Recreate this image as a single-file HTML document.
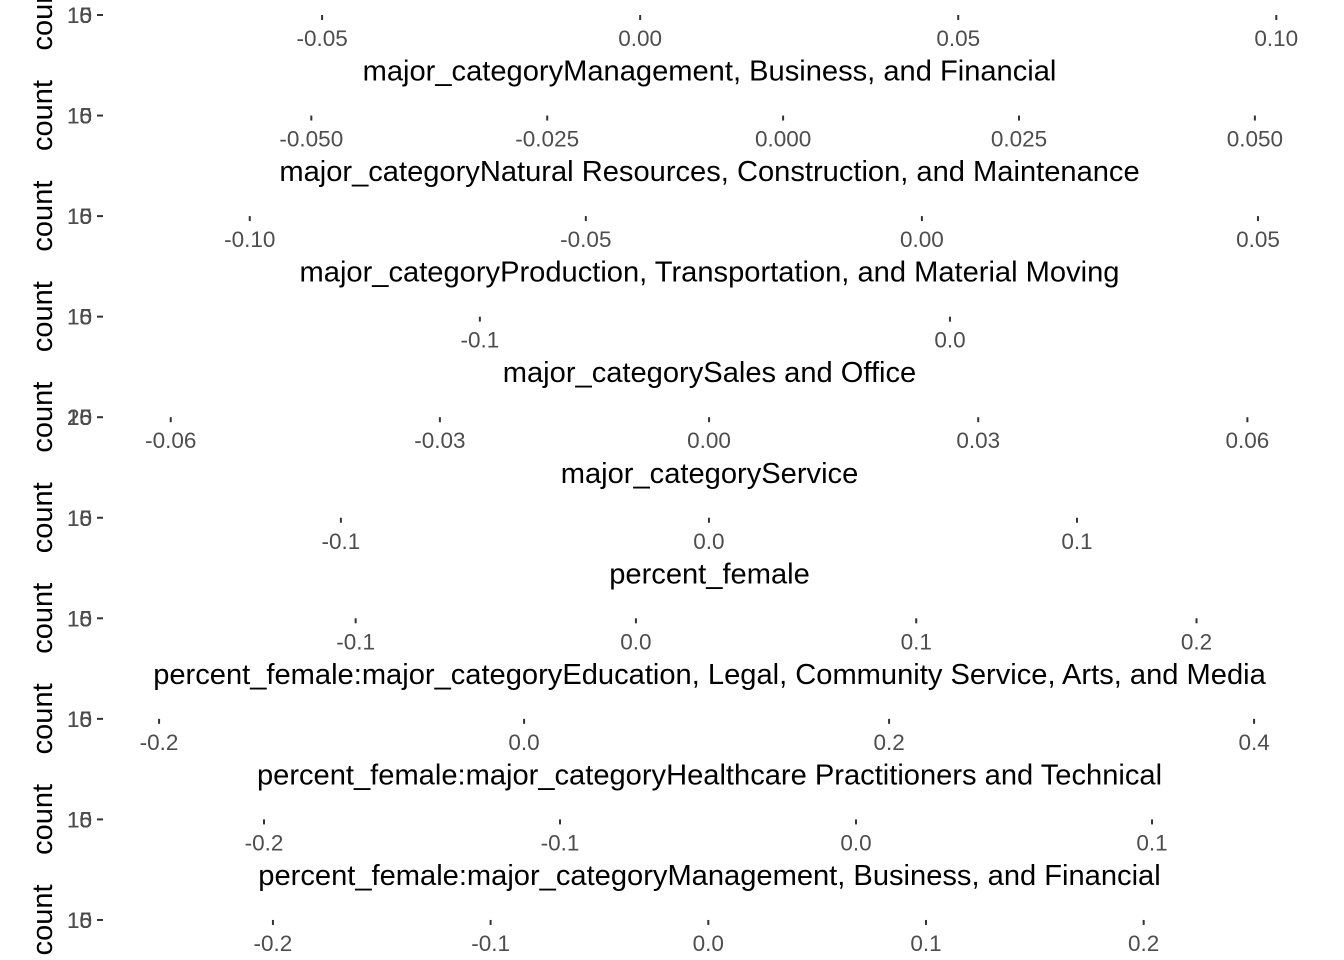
<!DOCTYPE html>
<html><head><meta charset="utf-8">
<style>
html,body{margin:0;padding:0;background:#fff;}
svg{display:block;font-family:"Liberation Sans",sans-serif;}
</style></head>
<body>
<svg id="chart" width="1344" height="960"></svg>
<script>
const panelTitles = [
 null,
 "major_categoryManagement, Business, and Financial",
 "major_categoryNatural Resources, Construction, and Maintenance",
 "major_categoryProduction, Transportation, and Material Moving",
 "major_categorySales and Office",
 "major_categoryService",
 "percent_female",
 "percent_female:major_categoryEducation, Legal, Community Service, Arts, and Media",
 "percent_female:major_categoryHealthcare Practitioners and Technical",
 "percent_female:major_categoryManagement, Business, and Financial"
];
const xDomains = [
 [-0.0824,0.1042],[-0.0707,0.0551],[-0.1199,0.0567],[-0.1774,0.0751],[-0.0661,0.0662],
 [-0.1611,0.1614],[-0.1855,0.238],[-0.2236,0.4268],[-0.25,0.151],[-0.2721,0.2732]
];
const xTicks = [
 ["-0.05","0.00","0.05","0.10"],
 ["-0.050","-0.025","0.000","0.025","0.050"],
 ["-0.10","-0.05","0.00","0.05"],
 ["-0.1","0.0"],
 ["-0.06","-0.03","0.00","0.03","0.06"],
 ["-0.1","0.0","0.1"],
 ["-0.1","0.0","0.1","0.2"],
 ["-0.2","0.0","0.2","0.4"],
 ["-0.2","-0.1","0.0","0.1"],
 ["-0.2","-0.1","0.0","0.1","0.2"]
];
const yTicks = [
 ["0","5","10","15"],["0","5","10","15"],["0","5","10","15"],["0","5","10","15"],
 ["0","5","10","15","20","25"],["0","5","10","15"],["0","5","10","15"],
 ["0","5","10","15"],["0","5","10","15"],["0","5","10","15"]
];
const NS="http://www.w3.org/2000/svg";
const svg=document.getElementById('chart');
const X0=116,X1=1303,TOP=15,STEP=100.55;
function mk(tag,attrs,text){const e=document.createElementNS(NS,tag);for(const k in attrs)e.setAttribute(k,attrs[k]);if(text!=null)e.textContent=text;svg.appendChild(e);return e;}
function xScale(i,v){const d=xDomains[i];return X0+(v-d[0])/(d[1]-d[0])*(X1-X0);}
for(let i=0;i<xDomains.length;i++){
 const y=TOP+STEP*i;
 if(panelTitles[i]){
  const t=mk('text',{x:709.5,y:y-35,'text-anchor':'middle','font-size':'29.1px',fill:'#000'},panelTitles[i]);
  
  
 }
 const c=mk('text',{x:0,y:0,'text-anchor':'middle','font-size':'29px',fill:'#000',transform:`translate(52,${y}) rotate(-90)`},'count');
 
 
 yTicks[i].forEach(lbl=>{
  const e=mk('text',{x:92,y:y+8,'text-anchor':'end','font-size':'22.5px',fill:'#4d4d4d'},lbl);
  
  
 });
 const ym=mk('line',{x1:97,x2:103,y1:y,y2:y,stroke:'#333','stroke-width':'2'});
 
 
 xTicks[i].forEach(lbl=>{
  const px=xScale(i,parseFloat(lbl));
  const m=mk('line',{x1:px,x2:px,y1:y,y2:y+5,stroke:'#333','stroke-width':'2'});
  
  
  const e=mk('text',{x:px,y:y+31,'text-anchor':'middle','font-size':'22.5px',fill:'#4d4d4d'},lbl);
  
  
 });
}
</script>
</body></html>
